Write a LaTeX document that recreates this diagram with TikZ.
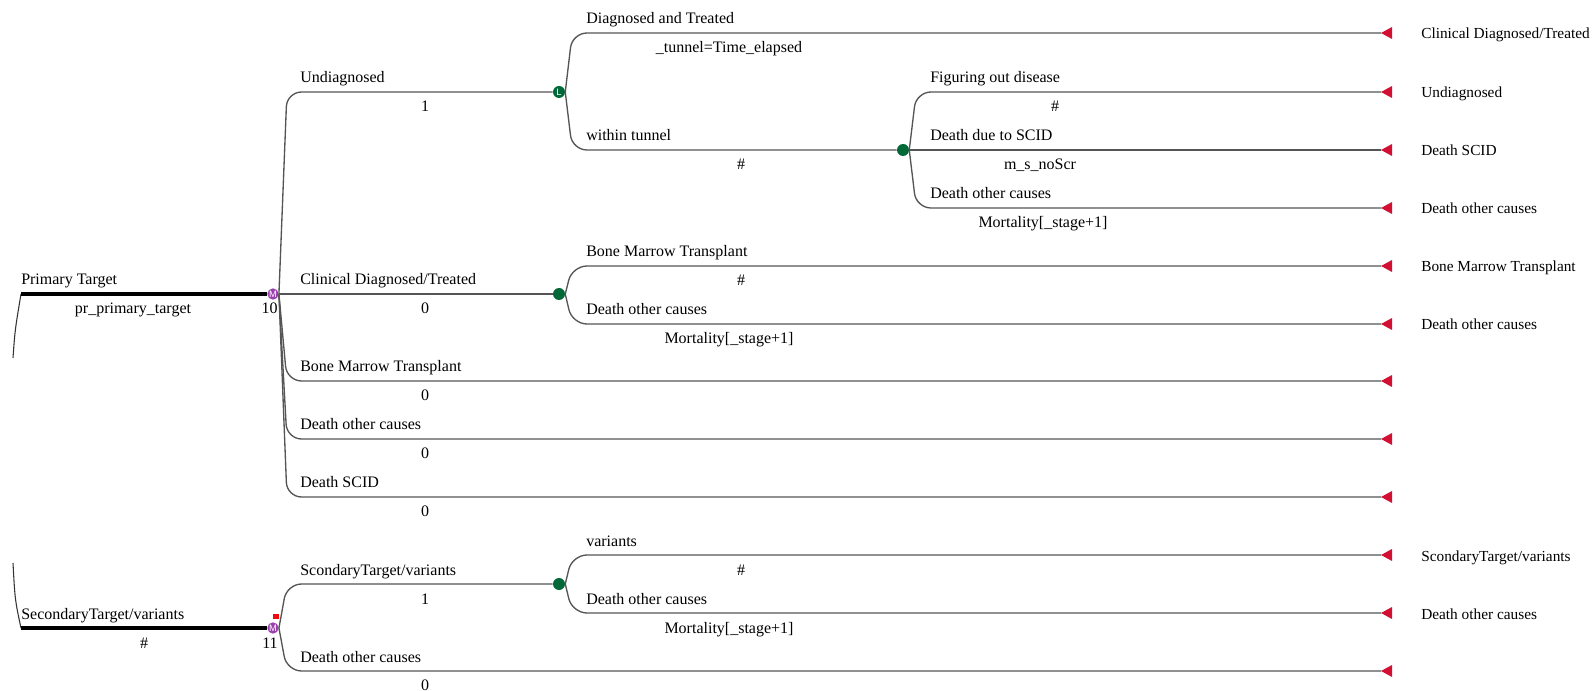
\documentclass[tikz,border=0pt]{standalone}
\usepackage{fontspec}
\setmainfont{Liberation Serif}
\newfontfamily\nodefont{Liberation Sans}
\usetikzlibrary{calc}
\definecolor{markovpurple}{RGB}{155,65,175}
\definecolor{chancegreen}{RGB}{0,105,55}
\definecolor{termred}{RGB}{210,16,52}
\definecolor{linegray}{RGB}{85,85,85}
\definecolor{flagred}{RGB}{240,10,10}
\begin{document}
\begin{tikzpicture}[x=0.75pt,y=-0.75pt,
  lbl/.style={font=\fontsize{12}{14}\selectfont, inner sep=0pt, anchor=base west},
  val/.style={font=\fontsize{12}{14}\selectfont, inner sep=0pt, anchor=base},
  tlbl/.style={font=\fontsize{11.5}{14}\selectfont, inner sep=0pt, anchor=base west},
  branch/.style={draw=linegray, line width=1pt, rounded corners=11pt},
  trunk/.style={draw=black, line width=2.3pt},
  stub/.style={draw=black!80, line width=0.8pt},
  mnode/.style={circle, fill=markovpurple, text=white, inner sep=0pt, minimum size=8.5pt,
    font=\nodefont\fontsize{7}{7}\selectfont},
  cnode/.style={circle, fill=chancegreen, inner sep=0pt, minimum size=9pt},
  lnode/.style={cnode, text=white, font=\nodefont\fontsize{7}{7}\selectfont},
  term/.style={fill=termred},
  flagbox/.style={fill=flagred, inner sep=0pt, minimum width=4.5pt, minimum height=3.8pt}
]
\useasboundingbox[fill=white] (0,0) rectangle (1596,691);

% decision / chance / Markov nodes
\node[mnode] (m1) at (273,294) {M};
\node[mnode] (m2) at (273,628) {M};
\node[flagbox] (flag2) at (276,616.5) {};
\node[lnode] (l1) at (559,92) {L};
\node[cnode] (c1) at (559,294) {};
\node[cnode] (c2) at (903,150) {};
\node[cnode] (c3) at (559,584) {};

% terminal tips
\coordinate (tDT)  at (1381,33);
\coordinate (tFD)  at (1381,92);
\coordinate (tDS)  at (1381,150);
\coordinate (tDO)  at (1381,208);
\coordinate (tBM)  at (1381,266);
\coordinate (tDO2) at (1381,324);
\coordinate (tBM0) at (1381,381);
\coordinate (tDO0) at (1381,439);
\coordinate (tDS0) at (1381,497);
\coordinate (tVar) at (1381,555);
\coordinate (tDO3) at (1381,613);
\coordinate (tDO4) at (1381,671);

% trunks from the root and the incoming stubs
\coordinate (p1) at (21,294);
\coordinate (p2) at (21,628);
\coordinate (s1) at (13,358);
\coordinate (s2) at (13,563);
\draw[stub] (s1) .. controls (15,330) .. (p1);
\draw[stub] (s2) .. controls (15,600) .. (p2);
\draw[trunk] (p1) -- (m1);
\draw[trunk] (p2) -- (m2);

% Markov node 1 branches
\draw[branch] (m1.east) -- ($(m1.east |- l1)+(8,0)$) -- (l1);
\draw[branch] (m1) -- (c1);
\draw[branch] (m1.east) -- ($(m1.east |- tBM0)+(8,0)$) -- (tBM0);
\draw[branch] (m1.east) -- ($(m1.east |- tDO0)+(8,0)$) -- (tDO0);
\draw[branch] (m1.east) -- ($(m1.east |- tDS0)+(8,0)$) -- (tDS0);

% tunnel node branches
\draw[branch] (l1.east) -- ($(l1.east |- tDT)+(7,0)$) -- (tDT);
\draw[branch] (l1.east) -- ($(l1.east |- c2)+(7,0)$) -- (c2);

% chance node inside the tunnel
\draw[branch] (c2.east) -- ($(c2.east |- tFD)+(7,0)$) -- (tFD);
\draw[branch] (c2) -- (tDS);
\draw[branch] (c2.east) -- ($(c2.east |- tDO)+(7,0)$) -- (tDO);

% chance node after clinical diagnosis
\draw[branch] (c1.east) -- ($(c1.east |- tBM)+(7,0)$) -- (tBM);
\draw[branch] (c1.east) -- ($(c1.east |- tDO2)+(7,0)$) -- (tDO2);

% Markov node 2 branches
\draw[branch] (m2.east) -- ($(m2.east |- c3)+(8,0)$) -- (c3);
\draw[branch] (m2.east) -- ($(m2.east |- tDO4)+(8,0)$) -- (tDO4);
\draw[branch] (c3.east) -- ($(c3.east |- tVar)+(7,0)$) -- (tVar);
\draw[branch] (c3.east) -- ($(c3.east |- tDO3)+(7,0)$) -- (tDO3);

% terminal markers
\foreach \t in {tDT,tFD,tDS,tDO,tBM,tDO2,tBM0,tDO0,tDS0,tVar,tDO3,tDO4}
  \fill[term] (\t) -- ++(11,-6) -- ++(0,12) -- cycle;

% root-level labels
\node[lbl] (lpt) at (21,285) {Primary Target};
\node[val] (vpt) at (133,314) {pr\_primary\_target};
\node[val, anchor=base east] (n10) at (278,314) {10};
\node[lbl] (lst) at (21,619) {SecondaryTarget/variants};
\node[val] (vst) at (144,648) {\#};
\node[val, anchor=base east] (n11) at (278,648) {11};

% Markov 1 labels
\node[lbl] (lu) at (300,83) {Undiagnosed};
\node[val] (vu) at (425,112) {1};
\node[lbl] (lc) at (300,285) {Clinical Diagnosed/Treated};
\node[val] (vc) at (425,314) {0};
\node[lbl] (lb) at (300,372) {Bone Marrow Transplant};
\node[val] (vb) at (425,401) {0};
\node[lbl] (lo) at (300,430) {Death other causes};
\node[val] (vo) at (425,459) {0};
\node[lbl] (ls) at (300,488) {Death SCID};
\node[val] (vs) at (425,517) {0};

% tunnel labels
\node[lbl] (ldt) at (586,24) {Diagnosed and Treated};
\node[val] (vdt) at (729,53) {\_tunnel=Time\_elapsed};
\node[lbl] (lwt) at (586,141) {within tunnel};
\node[val] (vwt) at (741,170) {\#};

\node[lbl] (lfd) at (930,83) {Figuring out disease};
\node[val] (vfd) at (1055,112) {\#};
\node[lbl] (lds) at (930,141) {Death due to SCID};
\node[val] (vds) at (1040,170) {m\_s\_noScr};
\node[lbl] (ldo) at (930,199) {Death other causes};
\node[val] (vdo) at (1043,228) {Mortality[\_stage+1]};

% clinical branch labels
\node[lbl] (lbm) at (586,257) {Bone Marrow Transplant};
\node[val] (vbm) at (741,286) {\#};
\node[lbl] (ldo2) at (586,315) {Death other causes};
\node[val] (vdo2) at (729,344) {Mortality[\_stage+1]};

% secondary target labels
\node[lbl] (lsv) at (300,575) {ScondaryTarget/variants};
\node[val] (vsv) at (425,604) {1};
\node[lbl] (ldo4) at (300,662) {Death other causes};
\node[val] (vdo4) at (425,690) {0};
\node[lbl] (lvar) at (586,546) {variants};
\node[val] (vvar) at (741,575) {\#};
\node[lbl] (ldo3) at (586,604) {Death other causes};
\node[val] (vdo3) at (729,633) {Mortality[\_stage+1]};

% terminal labels
\node[tlbl] (xdt) at (1421,39) {Clinical Diagnosed/Treated};
\node[tlbl] (xfd) at (1421,98) {Undiagnosed};
\node[tlbl] (xds) at (1421,156) {Death SCID};
\node[tlbl] (xdo) at (1421,214) {Death other causes};
\node[tlbl] (xbm) at (1421,272) {Bone Marrow Transplant};
\node[tlbl] (xdo2) at (1421,330) {Death other causes};
\node[tlbl] (xvar) at (1421,561) {ScondaryTarget/variants};
\node[tlbl] (xdo3) at (1421,619) {Death other causes};
\end{tikzpicture}
\end{document}
